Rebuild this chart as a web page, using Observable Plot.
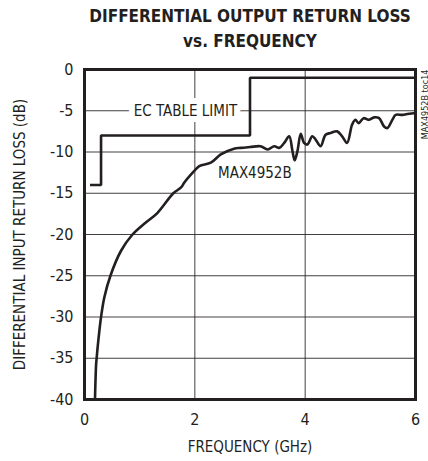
<!DOCTYPE html>
<html>
<head>
<meta charset="utf-8">
<script src="https://cdn.jsdelivr.net/npm/d3@7"></script>
<script src="https://cdn.jsdelivr.net/npm/@observablehq/plot@0.6"></script>
<style>
  html, body { margin: 0; padding: 0; background: #fff; }
  #wrap { position: relative; width: 428px; height: 461px; overflow: hidden; }
  #title { position: absolute; left: 50px; width: 400px; top: 4px; text-align: center;
    font-family: "DejaVu Sans Condensed", "DejaVu Sans", sans-serif; font-stretch: condensed; font-weight: bold;
    font-size: 17px; line-height: 25px; color: #231f20; }
  #chart { position: absolute; left: 0; top: 0; }
  #chart svg text { font-stretch: condensed; }
</style>
</head>
<body>
<div id="wrap">
  <div id="chart"></div>
  <div id="title">DIFFERENTIAL OUTPUT RETURN LOSS<br>vs. FREQUENCY</div>
</div>
<script>
// Measured curve: MAX4952B differential return loss
const freqGHz = [0.19, 0.21, 0.22, 0.25, 0.30, 0.36, 0.47, 0.66, 0.87, 1.10, 1.32, 1.61, 1.75, 1.81, 1.99, 2.08, 2.29, 2.47, 2.71, 2.83, 3.00, 3.19, 3.32, 3.44, 3.53, 3.62, 3.71, 3.77, 3.81, 3.86, 3.92, 3.98, 4.04, 4.13, 4.19, 4.28, 4.37, 4.46, 4.58, 4.67, 4.76, 4.85, 4.91, 4.97, 5.06, 5.15, 5.25, 5.34, 5.43, 5.49, 5.58, 5.64, 5.76, 5.85, 5.97, 6.00];
const lossDb  = [-40, -35.8, -35, -32.9, -30, -27.6, -25, -22, -20, -18.6, -17.4, -15, -14.3, -13.7, -12.3, -11.7, -11.3, -10.3, -9.6, -9.5, -9.4, -9.3, -9.7, -9.3, -9.5, -8.9, -8.1, -9.9, -11.0, -9.9, -7.8, -8.9, -9.1, -8.1, -8.5, -9.3, -7.9, -7.7, -7.5, -8.1, -8.9, -6.7, -6.1, -6.5, -5.9, -6.1, -5.8, -5.9, -6.9, -7.1, -6.1, -5.5, -5.5, -5.4, -5.3, -5.3];

// EC table limit (step line)
const limitFreq = [0.1, 0.3, 0.3, 3.0, 3.0, 6.0];
const limitDb   = [-14, -14, -8, -8, -1, -1];

// Axis ticks
const xTicks = [0, 2, 4, 6];
const yTicks = [0, -5, -10, -15, -20, -25, -30, -35, -40];

// Labels
const curveLabel = {text: "MAX4952B", x: 2.42, y: -12.6};
const limitLabel = {text: "EC TABLE LIMIT", x: 1.83, y: -5};

const curve = freqGHz.map((f, i) => ({f, db: lossDb[i]}));
const limit = limitFreq.map((f, i) => ({f, db: limitDb[i]}));

const font = "DejaVu Sans Condensed, DejaVu Sans, sans-serif";
const ink = "#231f20";

const chart = Plot.plot({
  width: 428,
  height: 461,
  marginLeft: 84,
  marginRight: 13,
  marginTop: 69,
  marginBottom: 62,
  style: {fontFamily: font, fontSize: "15px", color: ink, background: "white"},
  x: {domain: [0, 6], ticks: xTicks, tickSize: 0, tickPadding: 14, tickFormat: d => String(d), label: "FREQUENCY (GHz)", labelAnchor: "center", labelArrow: "none", labelOffset: 52},
  y: {domain: [-40, 0], ticks: yTicks, tickSize: 0, tickPadding: 11, tickFormat: d => String(d), label: "DIFFERENTIAL INPUT RETURN LOSS (dB)", labelAnchor: "center", labelArrow: "none", labelOffset: 70},
  marks: [
    Plot.gridX(xTicks, {stroke: ink, strokeOpacity: 0.85, strokeWidth: 1}),
    Plot.gridY(yTicks, {stroke: ink, strokeOpacity: 0.85, strokeWidth: 1}),
    Plot.axisX({ticks: xTicks, tickSize: 0, tickPadding: 14, tickFormat: d => String(d), fontSize: 16, label: null}),
    Plot.axisY({ticks: yTicks, tickSize: 0, tickPadding: 11, tickFormat: d => String(d), fontSize: 16, label: null}),
    Plot.axisX({ticks: [], tickSize: 0, label: "FREQUENCY (GHz)", labelAnchor: "center", labelArrow: "none", labelOffset: 52}),
    Plot.axisY({ticks: [], tickSize: 0, label: "DIFFERENTIAL INPUT RETURN LOSS (dB)", labelAnchor: "center", labelArrow: "none", labelOffset: 70}),
    Plot.text([limitLabel], {x: "x", y: "y", text: "text", fontSize: 15, fill: ink, stroke: "white", strokeWidth: 12, strokeLinejoin: "round", paintOrder: "stroke"}),
    Plot.line(limit, {x: "f", y: "db", stroke: ink, strokeWidth: 2.6, strokeLinejoin: "miter", strokeLinecap: "butt"}),
    Plot.line(curve, {x: "f", y: "db", stroke: ink, strokeWidth: 2.6, curve: "catmull-rom"}),
    Plot.text([curveLabel], {x: "x", y: "y", text: "text", fontSize: 15, fill: ink, textAnchor: "start"}),
    Plot.frame({stroke: ink, strokeWidth: 3}),
    Plot.text(["MAX4952B toc14"], {frameAnchor: "top-right", dx: 6, dy: 0, rotate: -90, textAnchor: "end", fontSize: 9, fill: ink})
  ]
});
document.getElementById("chart").appendChild(chart);
</script>
</body>
</html>
